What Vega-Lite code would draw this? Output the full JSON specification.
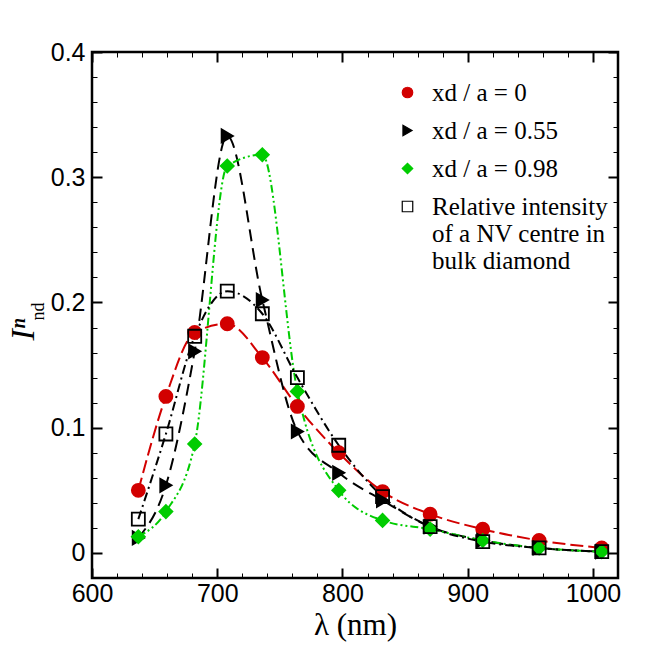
{
  "$schema": "https://vega.github.io/schema/vega-lite/v6.json",
  "description": "Normalised NV emission intensity vs wavelength",
  "autosize": {"type": "none"},
  "padding": {"left": 92, "top": 52, "right": 33, "bottom": 73},
  "width": 526,
  "height": 526,
  "background": "white",
  "data": {
    "values": [
      {"lambda": 637, "I": 0.050, "s": "xd / a = 0"},
      {"lambda": 659, "I": 0.125, "s": "xd / a = 0"},
      {"lambda": 682, "I": 0.176, "s": "xd / a = 0"},
      {"lambda": 708, "I": 0.183, "s": "xd / a = 0"},
      {"lambda": 736, "I": 0.156, "s": "xd / a = 0"},
      {"lambda": 764, "I": 0.117, "s": "xd / a = 0"},
      {"lambda": 797, "I": 0.080, "s": "xd / a = 0"},
      {"lambda": 832, "I": 0.049, "s": "xd / a = 0"},
      {"lambda": 870, "I": 0.031, "s": "xd / a = 0"},
      {"lambda": 912, "I": 0.019, "s": "xd / a = 0"},
      {"lambda": 957, "I": 0.010, "s": "xd / a = 0"},
      {"lambda": 1007, "I": 0.004, "s": "xd / a = 0"},
      {"lambda": 637, "I": 0.012, "s": "xd / a = 0.55"},
      {"lambda": 659, "I": 0.054, "s": "xd / a = 0.55"},
      {"lambda": 682, "I": 0.161, "s": "xd / a = 0.55"},
      {"lambda": 708, "I": 0.333, "s": "xd / a = 0.55"},
      {"lambda": 736, "I": 0.202, "s": "xd / a = 0.55"},
      {"lambda": 764, "I": 0.097, "s": "xd / a = 0.55"},
      {"lambda": 797, "I": 0.064, "s": "xd / a = 0.55"},
      {"lambda": 832, "I": 0.042, "s": "xd / a = 0.55"},
      {"lambda": 870, "I": 0.021, "s": "xd / a = 0.55"},
      {"lambda": 912, "I": 0.010, "s": "xd / a = 0.55"},
      {"lambda": 957, "I": 0.004, "s": "xd / a = 0.55"},
      {"lambda": 1007, "I": 0.001, "s": "xd / a = 0.55"},
      {"lambda": 637, "I": 0.013, "s": "xd / a = 0.98"},
      {"lambda": 659, "I": 0.033, "s": "xd / a = 0.98"},
      {"lambda": 682, "I": 0.087, "s": "xd / a = 0.98"},
      {"lambda": 708, "I": 0.309, "s": "xd / a = 0.98"},
      {"lambda": 736, "I": 0.318, "s": "xd / a = 0.98"},
      {"lambda": 764, "I": 0.129, "s": "xd / a = 0.98"},
      {"lambda": 797, "I": 0.050, "s": "xd / a = 0.98"},
      {"lambda": 832, "I": 0.026, "s": "xd / a = 0.98"},
      {"lambda": 870, "I": 0.019, "s": "xd / a = 0.98"},
      {"lambda": 912, "I": 0.010, "s": "xd / a = 0.98"},
      {"lambda": 957, "I": 0.004, "s": "xd / a = 0.98"},
      {"lambda": 1007, "I": 0.001, "s": "xd / a = 0.98"},
      {"lambda": 637, "I": 0.027, "s": "Relative intensity of a NV centre in bulk diamond"},
      {"lambda": 659, "I": 0.095, "s": "Relative intensity of a NV centre in bulk diamond"},
      {"lambda": 682, "I": 0.173, "s": "Relative intensity of a NV centre in bulk diamond"},
      {"lambda": 708, "I": 0.209, "s": "Relative intensity of a NV centre in bulk diamond"},
      {"lambda": 736, "I": 0.191, "s": "Relative intensity of a NV centre in bulk diamond"},
      {"lambda": 764, "I": 0.140, "s": "Relative intensity of a NV centre in bulk diamond"},
      {"lambda": 797, "I": 0.086, "s": "Relative intensity of a NV centre in bulk diamond"},
      {"lambda": 832, "I": 0.045, "s": "Relative intensity of a NV centre in bulk diamond"},
      {"lambda": 870, "I": 0.021, "s": "Relative intensity of a NV centre in bulk diamond"},
      {"lambda": 912, "I": 0.009, "s": "Relative intensity of a NV centre in bulk diamond"},
      {"lambda": 957, "I": 0.004, "s": "Relative intensity of a NV centre in bulk diamond"},
      {"lambda": 1007, "I": 0.001, "s": "Relative intensity of a NV centre in bulk diamond"}
    ]
  },
  "layer": [
    {
      "mark": {"type": "line", "strokeWidth": 2, "interpolate": "monotone"},
      "encoding": {
        "x": {
          "field": "lambda", "type": "quantitative",
          "scale": {"domain": [600, 1020], "nice": false, "zero": false},
          "axis": {
            "orient": "bottom", "values": [600, 700, 800, 900, 1000], "format": "d",
            "tickSize": -10, "tickWidth": 2, "labelPadding": 13,
            "title": "λ (nm)", "titleFont": "Liberation Serif", "titleFontSize": 31,
            "titleFontWeight": "normal", "titlePadding": 4
          }
        },
        "y": {
          "field": "I", "type": "quantitative",
          "scale": {"domain": [-0.02, 0.4], "nice": false, "zero": false},
          "axis": {
            "orient": "left", "values": [0, 0.1, 0.2, 0.3, 0.4], "format": "~g",
            "tickSize": -10, "tickWidth": 2, "labelPadding": 17,
            "title": "Iⁿ", "titleFont": "Liberation Serif", "titleFontStyle": "italic",
            "titleFontSize": 34, "titleFontWeight": "normal", "titlePadding": 10, "titleY": 277
          }
        },
        "color": {
          "field": "s", "type": "nominal", "legend": null,
          "scale": {"range": ["black", "#d20000", "black", "#00cc00"]}
        },
        "strokeDash": {
          "field": "s", "type": "nominal", "legend": null,
          "scale": {"range": [[9, 4, 2, 4], [13, 5], [12, 7], [8, 3, 2, 3, 2, 3]]}
        }
      }
    },
    {
      "mark": {"type": "point", "size": 170, "strokeWidth": 1.8, "opacity": 1},
      "encoding": {
        "x": {
          "field": "lambda", "type": "quantitative",
          "axis": {
            "orient": "bottom", "values": [620, 640, 660, 680, 720, 740, 760, 780, 820, 840, 860, 880, 920, 940, 960, 980, 1020],
            "tickSize": -5, "tickWidth": 1, "labels": false, "title": null
          }
        },
        "y": {
          "field": "I", "type": "quantitative",
          "axis": {
            "orient": "left", "values": [-0.02, 0.02, 0.04, 0.06, 0.08, 0.12, 0.14, 0.16, 0.18, 0.22, 0.24, 0.26, 0.28, 0.32, 0.34, 0.36, 0.38],
            "tickSize": -5, "tickWidth": 1, "labels": false,
            "title": "nd", "titleFont": "Liberation Serif", "titleFontSize": 18,
            "titleFontWeight": "normal", "titlePadding": 44, "titleY": 259
          }
        },
        "shape": {
          "field": "s", "type": "nominal",
          "scale": {
            "domain": ["xd / a = 0", "xd / a = 0.55", "xd / a = 0.98", "Relative intensity of a NV centre in bulk diamond"],
            "range": ["circle", "triangle-right", "diamond", "square"]
          },
          "legend": {
            "title": null, "orient": "none", "legendX": 303, "legendY": 28, "padding": 0,
            "labelFont": "Liberation Serif", "labelFontSize": 25,
            "labelExpr": "length(datum.label) > 20 ? ['Relative intensity', 'of a NV centre in', 'bulk diamond'] : datum.label",
            "labelLimit": 400, "labelOffset": 12, "symbolSize": 110,
            "symbolStrokeWidth": 1.2, "rowPadding": 12,
            "encode": {
              "labels": {
                "fill": {"value": {"signal": "indexof(datum.label, '0.98') >= 0 ? '#00cc00' : indexof(datum.label, '0.55') >= 0 ? 'black' : indexof(datum.label, '= 0') >= 0 ? '#d20000' : 'black'"}},
                "lineHeight": {"value": 24}
              }
            }
          }
        },
        "fill": {
          "field": "s", "type": "nominal",
          "scale": {
            "domain": ["xd / a = 0", "xd / a = 0.55", "xd / a = 0.98", "Relative intensity of a NV centre in bulk diamond"],
            "range": ["#d20000", "black", "#00cc00", "transparent"]
          },
          "legend": {"title": null}
        },
        "stroke": {
          "field": "s", "type": "nominal",
          "scale": {
            "domain": ["xd / a = 0", "xd / a = 0.55", "xd / a = 0.98", "Relative intensity of a NV centre in bulk diamond"],
            "range": ["#d20000", "black", "#00cc00", "black"]
          },
          "legend": {"title": null}
        }
      }
    },
    {
      "mark": {"type": "point", "opacity": 0},
      "encoding": {
        "x": {
          "field": "lambda", "type": "quantitative",
          "axis": {"orient": "top", "values": [600, 700, 800, 900, 1000], "tickSize": -10, "tickWidth": 2, "labels": false, "title": null}
        },
        "y": {
          "field": "I", "type": "quantitative",
          "axis": {"orient": "right", "values": [0, 0.1, 0.2, 0.3, 0.4], "tickSize": -10, "tickWidth": 2, "labels": false, "title": null}
        }
      }
    },
    {
      "mark": {"type": "point", "opacity": 0},
      "encoding": {
        "x": {
          "field": "lambda", "type": "quantitative",
          "axis": {"orient": "top", "values": [620, 640, 660, 680, 720, 740, 760, 780, 820, 840, 860, 880, 920, 940, 960, 980, 1020], "tickSize": -5, "tickWidth": 1, "labels": false, "title": null}
        },
        "y": {
          "field": "I", "type": "quantitative",
          "axis": {"orient": "right", "values": [-0.02, 0.02, 0.04, 0.06, 0.08, 0.12, 0.14, 0.16, 0.18, 0.22, 0.24, 0.26, 0.28, 0.32, 0.34, 0.36, 0.38], "tickSize": -5, "tickWidth": 1, "labels": false, "title": null}
        }
      }
    }
  ],
  "resolve": {"axis": {"x": "independent", "y": "independent"}},
  "config": {
    "view": {"stroke": "black", "strokeWidth": 2.5},
    "axis": {
      "grid": false,
      "domain": false,
      "labelFlush": false,
      "tickColor": "black",
      "labelColor": "black",
      "labelFont": "Liberation Sans",
      "labelFontSize": 25,
      "titleColor": "black"
    }
  }
}
